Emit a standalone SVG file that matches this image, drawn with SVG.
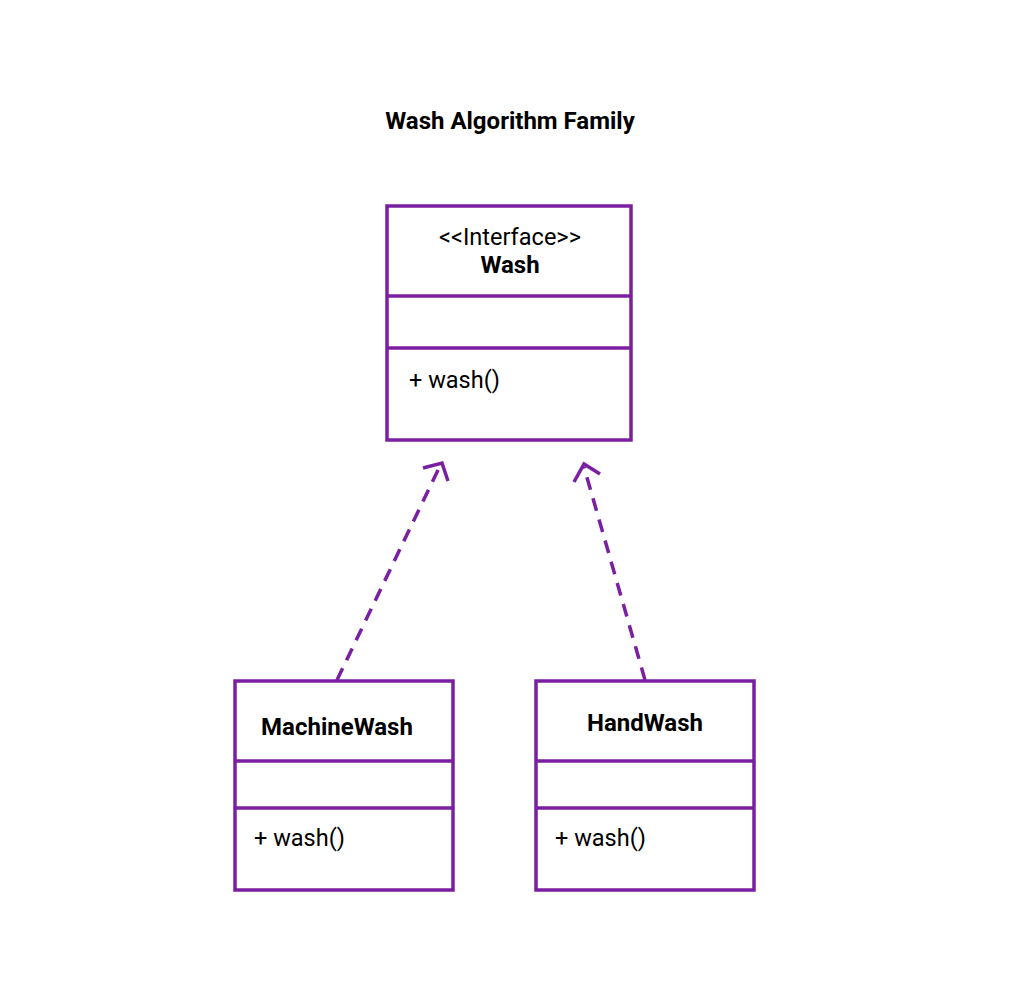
<svg xmlns="http://www.w3.org/2000/svg" width="1020" height="1000" viewBox="0 0 1020 1000">
<style>
.box{fill:#fff;stroke:#7b1fa2;stroke-width:3.5}
.div{stroke:#7b1fa2;stroke-width:3.5}
.t{font-family:Roboto,"Liberation Sans",sans-serif;font-size:23.5px;fill:#000}
.b{font-weight:bold;font-size:24px}
.c{text-anchor:middle}
.edge{fill:none;stroke:#7b1fa2;stroke-width:3.5;stroke-dasharray:13 9}
.head{fill:none;stroke:#7b1fa2;stroke-width:3.5;stroke-linecap:butt}
</style>
<rect width="1020" height="1000" fill="#fff"/>
<text class="t b c" x="510" y="129">Wash Algorithm Family</text>
<g id="Wash">
<rect class="box" x="387" y="206" width="244" height="234"/>
<line class="div" x1="387" y1="296" x2="631" y2="296"/>
<line class="div" x1="387" y1="348" x2="631" y2="348"/>
<text class="t c" x="510" y="245">&lt;&lt;Interface&gt;&gt;</text>
<text class="t b c" x="510" y="273">Wash</text>
<text class="t" x="409" y="388">+ wash()</text>
</g>
<g id="MachineWash">
<rect class="box" x="235" y="681" width="218" height="209"/>
<line class="div" x1="235" y1="761" x2="453" y2="761"/>
<line class="div" x1="235" y1="808" x2="453" y2="808"/>
<text class="t b c" x="337" y="735">MachineWash</text>
<text class="t" x="254" y="846">+ wash()</text>
</g>
<g id="HandWash">
<rect class="box" x="536" y="681" width="218" height="209"/>
<line class="div" x1="536" y1="761" x2="754" y2="761"/>
<line class="div" x1="536" y1="808" x2="754" y2="808"/>
<text class="t b c" x="645" y="731">HandWash</text>
<text class="t" x="555" y="846">+ wash()</text>
</g>
<g id="connectors">
<line class="edge" x1="337" y1="680" x2="440" y2="466"/>
<polyline class="head" points="423,468 442,463 448,481"/>
<line class="edge" x1="645" y1="680" x2="584" y2="467"/>
<polyline class="head" points="574,482 584,464 600,474"/>
</g>
</svg>
